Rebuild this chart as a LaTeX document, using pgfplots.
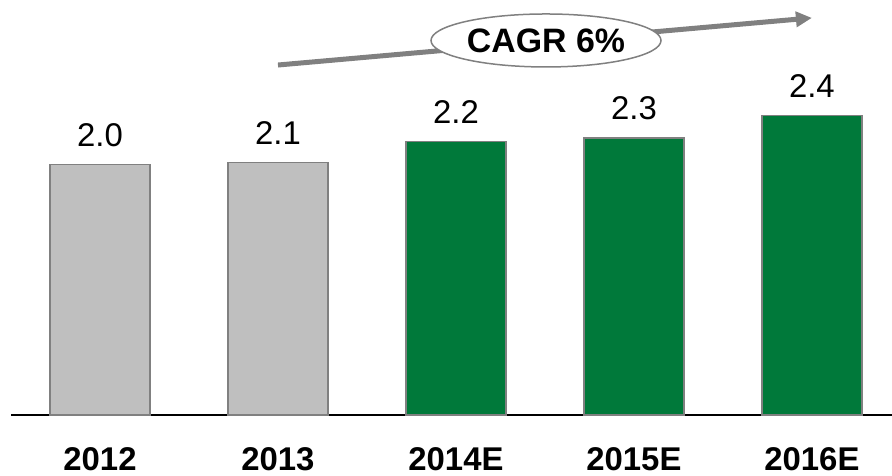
\documentclass[border=0pt]{standalone}
\usepackage{fontspec}
\setmainfont{Liberation Sans}
\usepackage{pgfplots}
\pgfplotsset{compat=1.18}
\usetikzlibrary{arrows.meta}
\definecolor{barGray}{RGB}{191,191,191}
\definecolor{barGreen}{RGB}{0,121,58}
\definecolor{edgeGray}{RGB}{128,128,128}
\begin{document}
\begin{tikzpicture}
\useasboundingbox (-11bp,-61bp) rectangle (881bp,415bp);
\begin{axis}[
  scale only axis,
  width=881bp, height=415bp,
  xmin=-0.5, xmax=4.45,
  ymin=0, ymax=3.383,
  clip=false,
  axis x line*=bottom,
  hide y axis,
  axis line style={black, line width=1.6bp},
  xtick={0,1,2,3,4},
  xticklabels={2012,2013,2014E,2015E,2016E},
  major tick length=0pt,
  xticklabel style={font=\fontsize{33}{39}\bfseries, inner sep=0pt, anchor=north, yshift=-32bp},
  ybar, bar width=100bp, bar shift=0pt,
  /pgf/number format/assume math mode=true,
  nodes near coords={\pgfmathprintnumber[fixed,fixed zerofill,precision=1]{\pgfplotspointmeta}},
  every node near coord/.append style={font=\fontsize{33}{39}\selectfont, inner sep=0pt, anchor=south, yshift=17bp, black},
]
\addplot[fill=barGray, draw=edgeGray, line width=1.5bp] coordinates {(0,2.04) (1,2.06)};
\addplot[fill=barGreen, draw=edgeGray, line width=1.5bp] coordinates {(2,2.23) (3,2.26) (4,2.44)};
\draw[edgeGray, line width=5bp, -{Triangle[length=16bp,width=15bp]}] (axis cs:1,2.853) -- (axis cs:4,3.237);
\draw[edgeGray, line width=1.5bp, fill=white] (axis cs:2.506,3.053) ellipse [x radius=115bp, y radius=26.5bp];
\node[font=\fontsize{34}{40}\bfseries] at (axis cs:2.506,3.053) {CAGR 6\%};
\end{axis}
\end{tikzpicture}
\end{document}
